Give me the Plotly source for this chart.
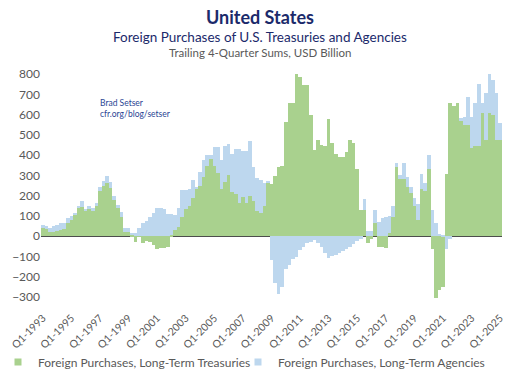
import plotly.graph_objects as go

# ---------------- data ----------------
quarters = [f"Q{q}-{y}" for y in range(1993, 2026) for q in (1, 2, 3, 4)][:129]

tick_labels = ["Q1-1993", "Q1-1995", "Q1-1997", "Q1-1999", "Q1-2001", "Q1-2003",
               "Q1-2005", "Q1-2007", "Q1-2009", "Q1-2011", "Q1-2013", "Q1-2015",
               "Q1-2017", "Q1-2019", "Q1-2021", "Q1-2023", "Q1-2025"]

treasuries = [
    38, 36, 20, 23, 26, 30, 33, 63, 79, 105, 137, 145, 125, 132, 125, 148,
    222, 247, 260, 240, 178, 137, 95, 21, 21, 6, -28, 2, -33, -25, -30, -45,
    -62, -58, -58, -52, 8, 28, 45, 95, 135, 150, 190, 235, 250, 290, 345, 380,
    345, 310, 235, 265, 300, 220, 206, 165, 195, 165, 200, 175, 125, 115, 150, 265,
    257, 296, 342, 346, 565, 658, 658, 800, 784, 746, 746, 598, 425, 474, 449, 444,
    576, 458, 405, 390, 392, 415, 474, 458, 329, 128, 128, -36, -12, 63, -53, -53,
    -58, 16, 95, 339, 280, 280, 244, 211, 150, 80, 235, 225, 330, -61, -303, -267,
    -250, 305, 655, 640, 658, 573, 548, 548, 433, 444, 444, 609, 474, 606, 598, 477,
    477,
]

agencies = [
    16, 16, 21, 26, 28, 37, 34, 29, 20, 10, 14, 28, 8, 16, 13, 15,
    22, 26, 36, 27, 20, 16, 25, 17, 17, 7, 16, 38, 63, 74, 95, 115,
    140, 138, 133, 110, 100, 77, 95, 132, 92, 85, 87, 9, 68, 85, 58, 23,
    93, 128, 140, 180, 154, 185, 222, 263, 223, 253, 270, 167, 160, 162, 110, 3,
    -120, -230, -283, -250, -160, -143, -115, -102, -69, -53, -36, -28, -20, -35, -55, -85,
    -108, -100, -92, -84, -75, -62, -55, -40, -25, -12, 53, 26, 26, 65, 71, 92,
    95, 83, 53, 23, 21, 82, 49, 33, 40, 80, 74, 35, 70, 128, 63, 13,
    5, -61, -12, 0, 0, 8, 41, 140, 156, 211, 306, 46, 231, 194, 172, 228,
    83,
]

series_names = ["Foreign Purchases, Long-Term Treasuries",
                "Foreign Purchases, Long-Term Agencies"]
colors = ["#a9d18e", "#bdd7ee"]

# ---------------- geometry ----------------
ML, MR, MT, MB = 41, 18, 70, 77
W, H = 520, 378
PW, PH = W - ML - MR, H - MT - MB


def px_x(x):
    return (x - ML) / PW


def px_y(y):
    return 1 + (MT - y) / PH


FONT = "Lato"

# ---------------- figure ----------------
fig = go.Figure()
legend_ids = ["legend", "legend2"]
for name, vals, col, lg in zip(series_names, [treasuries, agencies], colors, legend_ids):
    fig.add_trace(go.Bar(x=quarters, y=vals, name=name, marker_color=col,
                         marker_line_width=0, showlegend=False,
                         legendgroup=name))
    # legend entry with a small square swatch
    fig.add_trace(go.Scatter(x=[None], y=[None], mode="markers", name=name,
                             legendgroup=name, legend=lg, hoverinfo="skip",
                             marker=dict(symbol="square", size=7, color=col)))

legend_common = dict(orientation="h", yanchor="middle", y=px_y(362),
                     xanchor="left", font=dict(family=FONT, size=12, color="#595959"),
                     itemwidth=30, bgcolor="rgba(0,0,0,0)")

fig.update_layout(
    width=W, height=H,
    margin=dict(l=ML, r=MR, t=MT, b=MB, autoexpand=False),
    barmode="relative", bargap=0,
    plot_bgcolor="white", paper_bgcolor="white",
    font=dict(family=FONT, color="#595959", size=12),
    showlegend=True,
    legend=dict(x=px_x(-2), **legend_common),
    legend2=dict(x=px_x(238), **legend_common),
    annotations=[
        dict(text="<b>United States</b>", x=px_x(260), y=px_y(17),
             xref="paper", yref="paper", showarrow=False,
             xanchor="center", yanchor="middle",
             font=dict(family=FONT, size=18, color="#1b2a6b")),
        dict(text="Foreign Purchases of U.S. Treasuries and Agencies",
             x=px_x(260), y=px_y(37), xref="paper", yref="paper", showarrow=False,
             xanchor="center", yanchor="middle",
             font=dict(family=FONT, size=13.5, color="#1b2a6b")),
        dict(text="Trailing 4-Quarter Sums, USD Billion", x=px_x(260), y=px_y(53),
             xref="paper", yref="paper", showarrow=False,
             xanchor="center", yanchor="middle",
             font=dict(family=FONT, size=11.5, color="#595959")),
        dict(text="Brad Setser<br>cfr.org/blog/setser", x=px_x(98), y=px_y(109),
             xref="paper", yref="paper", showarrow=False, align="left",
             xanchor="left", yanchor="middle",
             font=dict(family=FONT, size=8.5, color="#2a4594")),
    ],
)

fig.update_xaxes(
    type="category", range=[-0.5, len(quarters) - 0.5],
    tickmode="array", tickvals=tick_labels, ticktext=tick_labels,
    tickangle=-45, tickfont=dict(family=FONT, size=10.5, color="#595959"),
    ticklabelstandoff=8,
    showgrid=False, showline=False, ticks="", zeroline=False,
    automargin=False,
)
fig.update_yaxes(
    range=[-320, 820], tickvals=list(range(-300, 801, 100)),
    tickfont=dict(family=FONT, size=12, color="#595959"),
    showgrid=False, showline=False, ticks="",
    zeroline=True, zerolinecolor="#4d4d4d", zerolinewidth=1,
    automargin=False,
)

fig.write_html("out.html",
               config={"displayModeBar": False},
               post_script="document.body.style.margin='0';"
                           "document.body.style.overflow='hidden';")
